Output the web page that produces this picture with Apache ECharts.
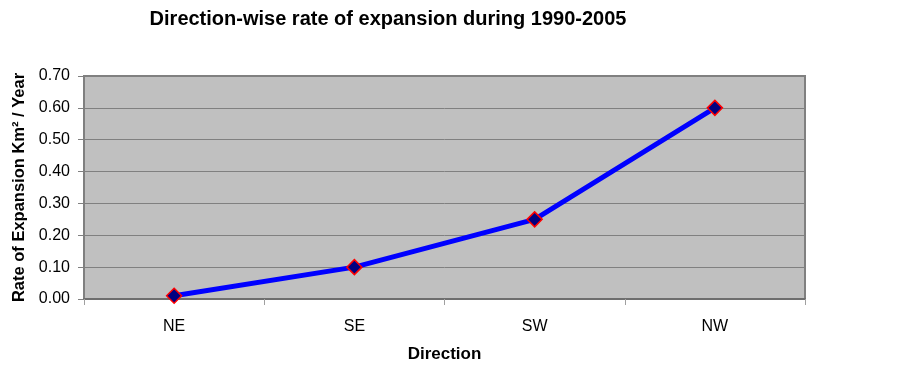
<!DOCTYPE html>
<html>
<head>
<meta charset="utf-8">
<script src="https://cdn.jsdelivr.net/npm/echarts@6/dist/echarts.min.js"></script>
<style>
  html, body { margin: 0; padding: 0; background: #fff; }
  #chart { width: 903px; height: 366px; }
</style>
</head>
<body>
<div id="chart"></div>
<script>
let directions = ['NE', 'SE', 'SW', 'NW'];
let rates = [0.01, 0.10, 0.25, 0.60];

let chart = echarts.init(document.getElementById('chart'));
chart.setOption({
  animation: false,
  textStyle: { fontFamily: 'Liberation Sans, Arial, sans-serif' },
  title: {
    text: 'Direction-wise rate of expansion during 1990-2005',
    left: 383,
    textAlign: 'center',
    top: 4,
    textStyle: { fontSize: 20, fontWeight: 'bold', color: '#000' }
  },
  grid: {
    left: 84, right: 98, top: 76, bottom: 67,
    containLabel: false,
    outerBoundsMode: 'none',
    show: true,
    backgroundColor: '#c0c0c0',
    borderColor: '#808080',
    borderWidth: 2
  },
  xAxis: {
    type: 'category',
    data: directions,
    boundaryGap: true,
    name: 'Direction',
    nameLocation: 'middle',
    nameGap: 47,
    nameTextStyle: { fontSize: 17, fontWeight: 'bold', color: '#000' },
    axisLine: { lineStyle: { color: '#6e6e6e', width: 2 } },
    axisTick: { show: true, alignWithLabel: false, length: 6, lineStyle: { color: '#a0a0a0' } },
    axisLabel: { fontSize: 16, color: '#000', margin: 20 },
    splitLine: { show: false }
  },
  yAxis: {
    type: 'value',
    min: 0,
    max: 0.7,
    interval: 0.1,
    name: 'Rate of Expansion Km² / Year',
    nameLocation: 'middle',
    nameGap: 55,
    nameTextStyle: { fontSize: 16.5, fontWeight: 'bold', color: '#000' },
    axisLine: { show: true, lineStyle: { color: '#808080' } },
    axisTick: { show: true, length: 6, lineStyle: { color: '#808080' } },
    axisLabel: { fontSize: 16, color: '#000', margin: 14, formatter: v => v.toFixed(2) },
    splitLine: { show: true, lineStyle: { color: '#808080', width: 1 } }
  },
  series: [{
    type: 'line',
    data: rates,
    symbol: 'diamond',
    symbolSize: 15,
    lineStyle: { color: '#0000ff', width: 5 },
    itemStyle: { color: '#000080', borderColor: '#ff0000', borderWidth: 1.5 }
  }]
});
</script>
</body>
</html>
